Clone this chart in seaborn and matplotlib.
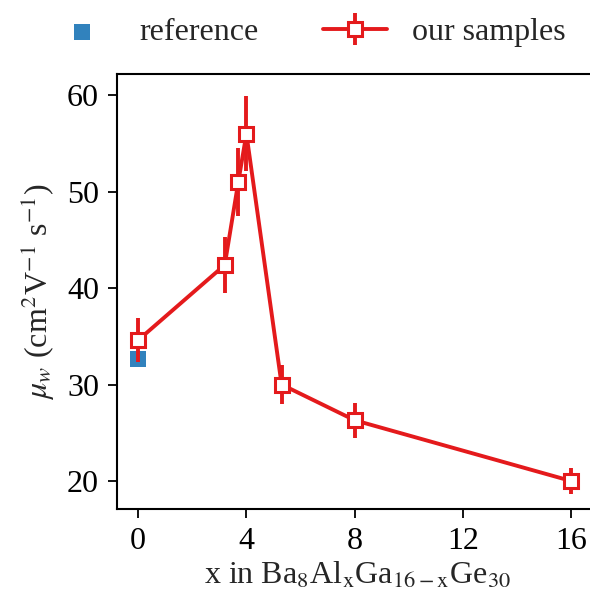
import matplotlib
matplotlib.use("Agg")
import matplotlib.pyplot as plt
import seaborn as sns
import pandas as pd

ref_x = [0.0, 0.0]
ref_y = [34.6, 32.6]
x_al = [0.0, 3.2, 3.7, 4.0, 5.3, 8.0, 16.0]
mu_w = [34.6, 42.4, 51.0, 56.0, 30.0, 26.3, 20.0]
mu_err = [2.3, 2.9, 3.5, 3.9, 2.0, 1.8, 1.3]
xticks = [0, 4, 8, 12, 16]
yticks = [20, 30, 40, 50, 60]

RED = "#e41a1c"
BLUE = "#3182bd"
FS = 23

sns.set_style("ticks")
plt.rcParams["font.family"] = ["Liberation Serif", "DejaVu Serif"]
plt.rcParams["mathtext.fontset"] = "stix"
plt.rcParams["font.size"] = FS

fig = plt.figure(figsize=(5.9, 6.02), dpi=100)
ax = fig.add_axes([117/590, 1 - 509/602, (597 - 117)/590, (509 - 74)/602])

ref_df = pd.DataFrame({"x": ref_x, "y": ref_y})
sns.scatterplot(data=ref_df, x="x", y="y", ax=ax, marker="s", s=130,
                color=BLUE, edgecolor=BLUE, linewidth=0, zorder=2, label="reference")

h = ax.errorbar(x_al, mu_w, yerr=mu_err, color=RED, lw=2.8, elinewidth=2.8,
                capsize=0, marker="s", ms=10.5, mfc="white", mec=RED, mew=2.2,
                zorder=3, label="our samples")

ax.set_xlim(-0.78, 16.95)
ax.set_ylim(17.1, 62.2)
ax.set_xticks(xticks)
ax.set_yticks(yticks)
ax.tick_params(labelsize=FS, length=6.5, width=1.3, colors="black", pad=6.5)
for s in ax.spines.values():
    s.set_linewidth(1.5)
    s.set_color("black")
ax.set_xlabel(r"x in Ba$_8$Al$_{\rm x}$Ga$_{16-{\rm x}}$Ge$_{30}$", fontsize=FS, labelpad=3)
ax.set_ylabel(r"$\mu_w$ (cm$^2$V$^{-1}$ s$^{-1}$)", fontsize=FS, labelpad=7)

ax.legend().remove()
handles, labels = ax.get_legend_handles_labels()
fig.legend(handles, labels, loc="upper center", bbox_to_anchor=(0.522, 1.018), ncol=2,
           frameon=False, fontsize=FS, handlelength=2.0, columnspacing=2.0,
           handletextpad=0.8)

fig.savefig("out.png", dpi=100)
